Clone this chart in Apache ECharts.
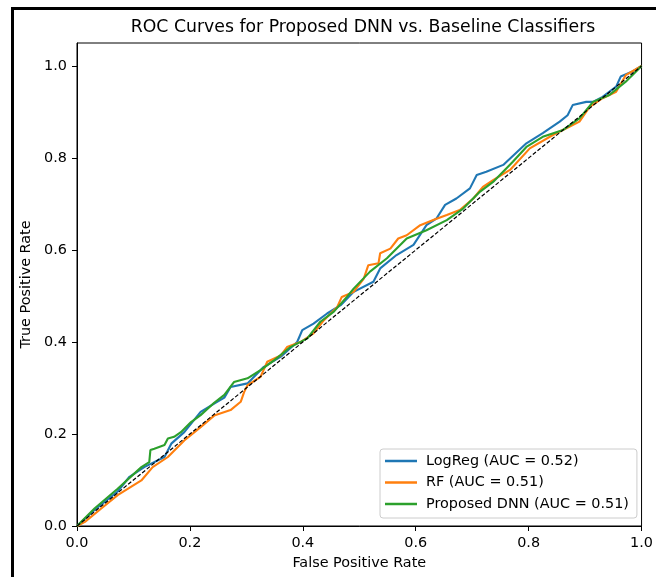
<!DOCTYPE html>
<html>
<head>
<meta charset="utf-8">
<script src="https://cdn.jsdelivr.net/npm/echarts@6/dist/echarts.min.js"></script>
<style>
html,body{margin:0;padding:0;background:#fff;}
#chart{width:656px;height:577px;}
</style>
</head>
<body>
<div id="chart"></div>
<script>
// ---- data ----
var titleText = 'ROC Curves for Proposed DNN vs. Baseline Classifiers';
var xName = 'False Positive Rate';
var yName = 'True Positive Rate';
var tickValues = [0, 0.2, 0.4, 0.6, 0.8, 1.0];
var seriesNames = ['LogReg (AUC = 0.52)', 'RF (AUC = 0.51)', 'Proposed DNN (AUC = 0.51)'];
var seriesColors = ['#1f77b4', '#ff7f0e', '#2ca02c'];

var logRegROC = [[0,0],[0.031,0.035],[0.072,0.075],[0.093,0.107],[0.119,0.128],[0.155,0.150],[0.167,0.179],[0.190,0.204],[0.219,0.248],[0.243,0.266],[0.261,0.279],[0.272,0.302],[0.302,0.31],[0.331,0.346],[0.361,0.368],[0.39,0.40],[0.399,0.426],[0.419,0.440],[0.443,0.462],[0.467,0.480],[0.49,0.509],[0.525,0.531],[0.537,0.560],[0.566,0.589],[0.596,0.611],[0.619,0.654],[0.637,0.669],[0.652,0.698],[0.672,0.712],[0.696,0.734],[0.708,0.763],[0.725,0.770],[0.755,0.785],[0.761,0.792],[0.796,0.832],[0.825,0.854],[0.855,0.879],[0.869,0.893],[0.878,0.915],[0.902,0.922],[0.914,0.922],[0.931,0.933],[0.955,0.955],[0.963,0.977],[0.984,0.988],[1,1]];

var rfROC = [[0,0],[0.014,0.009],[0.043,0.038],[0.072,0.067],[0.114,0.099],[0.134,0.128],[0.161,0.150],[0.190,0.186],[0.219,0.215],[0.243,0.240],[0.272,0.252],[0.29,0.270],[0.296,0.291],[0.302,0.306],[0.325,0.324],[0.337,0.357],[0.361,0.371],[0.372,0.389],[0.396,0.400],[0.419,0.419],[0.437,0.447],[0.461,0.476],[0.469,0.498],[0.49,0.509],[0.508,0.538],[0.516,0.567],[0.534,0.571],[0.537,0.593],[0.555,0.603],[0.569,0.625],[0.584,0.632],[0.608,0.654],[0.631,0.665],[0.655,0.676],[0.678,0.687],[0.702,0.712],[0.719,0.737],[0.737,0.752],[0.767,0.774],[0.802,0.821],[0.843,0.850],[0.872,0.868],[0.89,0.879],[0.908,0.911],[0.931,0.930],[0.955,0.944],[0.972,0.980],[1,1]];

var dnnROC = [[0,0],[0.031,0.038],[0.072,0.081],[0.114,0.128],[0.128,0.139],[0.130,0.165],[0.137,0.168],[0.155,0.176],[0.161,0.190],[0.172,0.194],[0.184,0.204],[0.202,0.226],[0.219,0.241],[0.243,0.268],[0.261,0.285],[0.278,0.313],[0.302,0.321],[0.325,0.339],[0.349,0.360],[0.378,0.389],[0.408,0.408],[0.431,0.444],[0.455,0.466],[0.478,0.498],[0.49,0.516],[0.519,0.553],[0.549,0.582],[0.584,0.625],[0.619,0.643],[0.655,0.665],[0.684,0.690],[0.714,0.727],[0.737,0.748],[0.772,0.792],[0.796,0.824],[0.825,0.846],[0.861,0.861],[0.89,0.886],[0.914,0.922],[0.943,0.937],[0.972,0.966],[1,1]];

var chanceLine = [[0,0],[1,1]];

// ---- chart ----
var FONT = 'DejaVu Sans';
var FS = 14.4;
var chart = echarts.init(document.getElementById('chart'), null, {renderer:'canvas'});
var curves = [logRegROC, rfROC, dnnROC];
var series = curves.map(function(d, i){
  return {
    name: seriesNames[i], type:'line', data:d, symbol:'none', showSymbol:false,
    lineStyle:{color:seriesColors[i], width:2.1}, itemStyle:{color:seriesColors[i]},
    animation:false, z:2
  };
});
series.push({
  name:'chance', type:'line', data:chanceLine, symbol:'none',
  lineStyle:{color:'#000', width:1.2, type:[4,2]}, animation:false, z:3, silent:true
});

var axisCommon = {
  type:'value',
  nameLocation:'middle',
  nameTextStyle:{fontFamily:FONT, fontSize:FS, color:'#000'},
  axisLine:{show:true, onZero:false, lineStyle:{color:'#000', width:1}},
  axisTick:{show:true, inside:false, length:5, lineStyle:{color:'#000'}, customValues:tickValues},
  axisLabel:{fontFamily:FONT, fontSize:FS, color:'#000', customValues:tickValues, margin:10,
    formatter:function(v){return v.toFixed(1);}},
  splitLine:{show:false}
};

chart.setOption({
  animation:false,
  backgroundColor:'#fff',
  grid:{left:77, right:12, top:43, bottom:51, show:true, borderColor:'#000', borderWidth:1, backgroundColor:'transparent'},
  xAxis: Object.assign({}, axisCommon, {min:0, max:1, name:xName, nameGap:30}),
  yAxis: Object.assign({}, axisCommon, {min:0, max:1.05, name:yName, nameGap:33}),
  legend:{
    show:true, data:seriesNames, orient:'vertical', left:380, top:449,
    icon:'rect', padding:[4,8,6,5], itemGap:5.5, itemWidth:32, itemHeight:2.5,
    backgroundColor:'rgba(255,255,255,0.8)', borderColor:'#cccccc', borderWidth:1, borderRadius:3,
    textStyle:{fontFamily:FONT, fontSize:FS, lineHeight:16, color:'#000', padding:[0,0,0,4]}
  },
  graphic:[
    {type:'text', x:363, y:28, style:{text:titleText, font:'17.3px "DejaVu Sans"', fill:'#000', textAlign:'center', textVerticalAlign:'middle'}, silent:true},
    {type:'line', shape:{x1:12.5, y1:8, x2:12.5, y2:577}, style:{stroke:'#000', lineWidth:3}, silent:true},
    {type:'line', shape:{x1:11, y1:8.5, x2:656, y2:8.5}, style:{stroke:'#000', lineWidth:3}, silent:true}
  ],
  series:series
});
</script>
</body>
</html>
